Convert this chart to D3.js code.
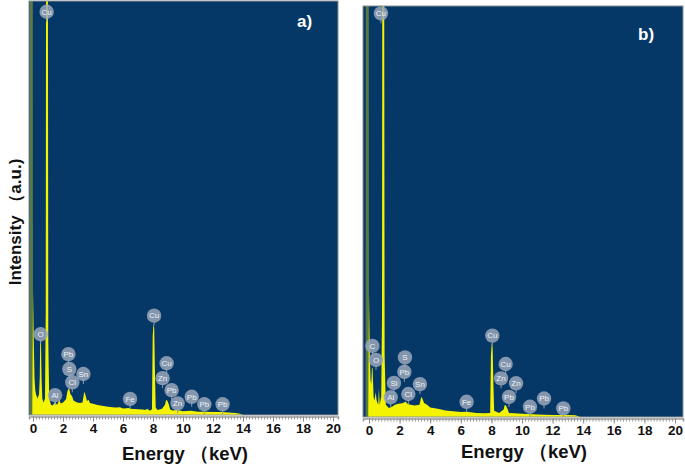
<!DOCTYPE html>
<html><head><meta charset="utf-8">
<script src="https://cdn.jsdelivr.net/npm/d3@7"></script>
<style>body{margin:0;background:#fff}svg{display:block}</style></head>
<body><svg id="c" width="685" height="469"></svg>
<script>
// ---------- data ----------
const xTickValues = [0,2,4,6,8,10,12,14,16,18,20];
const minorTickValues = d3.range(0, 20.001, 0.2);

// zero (noise) peak, same in both spectra
const zeroEnergy = [-0.22,-0.2,-0.02,0.0];
const zeroCounts = [0,150,150,0];

// spectrum a)
const aEnergy = [-0.05,0.0,0.05,0.1,0.15,0.2,0.3,0.4,0.45,0.48,0.53,0.57,0.62,0.7,0.8,0.85,0.88,0.98,1.02,1.08,1.2,1.3,1.4,1.49,1.6,1.75,1.85,2.0,2.2,2.3,2.4,2.5,2.6,2.7,2.9,3.1,3.3,3.42,3.5,3.6,3.7,3.8,4.0,4.3,4.5,4.8,5.0,5.3,5.5,5.8,6.0,6.4,6.5,7.0,7.3,7.5,7.6,7.8,7.93,7.98,8.03,8.08,8.13,8.18,8.3,8.6,8.8,8.87,8.95,9.05,9.15,9.3,9.6,10.0,10.5,11.0,11.5,12.0,12.6,13.0,13.5,13.8,14.0];
const aCounts = [0,30,18,9,6,5,4,5,9,18,18,9,4,3,4,25,150,150,18,4,2.5,2.3,2.8,3.2,2.4,3.6,2.8,3.0,3.8,5.8,6.5,5.0,4.6,3.5,3.1,2.9,3.0,5.6,4.8,3.4,3.7,2.9,2.7,2.4,2.3,2.1,2.0,1.9,1.8,1.9,1.6,1.7,1.5,1.4,1.3,1.2,1.5,1.0,1.4,19,22,21,10,1.8,1.2,1.5,2.5,3.6,3.5,2.6,1.3,1.1,1.2,0.9,1.0,0.8,0.8,0.7,0.7,0.6,0.5,0.3,0];
const aLabelNames  = ["Cu","O","Pb","S","Cl","Sn","Al","Fe","Cu","Cu","Zn","Pb","Zn","Pb","Pb","Pb"];
const aLabelEnergy = [0.91,0.51,2.36,2.42,2.62,3.36,1.47,6.47,8.07,8.91,8.64,9.24,9.64,10.58,11.42,12.64];
const aLabelLevel  = [97.4,19.5,14.7,11.1,7.9,9.9,4.8,3.9,24.0,12.5,8.9,6.0,2.8,4.4,2.6,2.6];

// spectrum b)
const bEnergy = [-0.05,0.0,0.05,0.1,0.15,0.19,0.23,0.27,0.3,0.35,0.4,0.44,0.5,0.6,0.65,0.7,0.8,0.85,0.88,0.98,1.02,1.1,1.3,1.5,1.7,1.9,2.1,2.3,2.4,2.5,2.7,3.0,3.3,3.42,3.5,3.6,3.8,4.0,4.5,5.0,5.5,6.0,6.4,7.0,7.5,7.92,7.97,8.02,8.08,8.13,8.18,8.5,8.8,8.87,8.95,9.05,9.15,9.5,10.0,11.0,12.0,13.0,13.5,13.8];
const bCounts = [0,30,16,9,8,12,12,8,5,4,5,6,4,3,7,3,5,25,150,150,15,3,2.2,2.5,3.0,3.2,3.3,3.5,3.8,3.2,3.0,2.8,3.0,4.9,4.4,3.4,3.0,2.3,2.0,1.6,1.4,1.2,1.3,1.0,0.9,1.0,15,18,17,8,1.5,1.0,1.8,2.9,2.8,2.0,1.0,0.9,0.8,0.6,0.5,0.5,0.4,0];
const bLabelNames  = ["Cu","C","O","S","Pb","Si","Al","Cl","Sn","Fe","Cu","Cu","Zn","Zn","Pb","Pb","Pb","Pb"];
const bLabelEnergy = [0.78,0.22,0.46,2.35,2.31,1.63,1.42,2.57,3.33,6.38,8.06,8.93,8.63,9.61,9.15,10.52,11.44,12.7];
const bLabelLevel  = [98.2,17.3,13.9,14.5,11.0,8.3,4.8,5.6,8.0,3.7,19.8,12.9,9.4,8.2,4.9,2.5,4.5,2.1];

// ---------- drawing ----------
const svg = d3.select("#c");
const FONT = "'Liberation Sans', Arial, sans-serif";
const BLUE = "#063867";
const YEL = "#f4f400";

function panel(cfg){
  const g = svg.append("g");
  const x = d3.scaleLinear().domain(cfg.xDomain).range([cfg.left, cfg.right]);
  const y = d3.scaleLinear().domain([0,100]).range([cfg.bottom, cfg.top]);
  const id = "clip" + cfg.name;
  svg.append("clipPath").attr("id", id).append("rect")
    .attr("x", cfg.left).attr("y", cfg.top)
    .attr("width", cfg.right-cfg.left).attr("height", cfg.bottom-cfg.top);
  g.append("rect").attr("x", cfg.left).attr("y", cfg.top)
    .attr("width", cfg.right-cfg.left).attr("height", cfg.bottom-cfg.top)
    .attr("fill", BLUE);
  const area = d3.area().x(d=>x(d[0])).y0(y(0)).y1(d=>y(d[1]));
  const cg = g.append("g").attr("clip-path", `url(#${id})`);
  cg.append("path").datum(d3.zip(zeroEnergy, zeroCounts))
    .attr("d", area).attr("fill", YEL).attr("fill-opacity", 0.35);
  cg.append("path").datum(d3.zip(cfg.E, cfg.I))
    .attr("d", area).attr("fill", YEL);
  // element labels
  const lab = cg.selectAll("g.lab").data(d3.zip(cfg.names, cfg.le, cfg.ll)).join("g")
    .attr("transform", d=>`translate(${x(d[1])},${y(d[2])})`);
  lab.append("line").attr("x1",0).attr("x2",0).attr("y1",6).attr("y2",10)
    .attr("stroke","#8d9aae").attr("stroke-width",1);
  lab.append("circle").attr("r",7.2).attr("fill","#9aa7ba").attr("fill-opacity",0.85);
  lab.append("text").text(d=>d[0]).attr("text-anchor","middle").attr("dy","0.35em")
    .attr("font-family", FONT).attr("font-size", 8).attr("fill","#eef2f7");
  // frame
  g.append("rect").attr("x", cfg.left).attr("y", cfg.top)
    .attr("width", cfg.right-cfg.left).attr("height", cfg.bottom-cfg.top)
    .attr("fill","none").attr("stroke","#8a8f96").attr("stroke-width",1);
  // axis
  const ay = cfg.bottom + 1.5;
  const minor = g.append("g").attr("transform",`translate(0,${ay})`)
    .call(d3.axisBottom(x).tickValues(minorTickValues).tickSize(3).tickFormat(""));
  minor.select(".domain").attr("stroke","#999").attr("stroke-width",1.5);
  minor.selectAll(".tick line").attr("stroke","#999");
  const major = g.append("g").attr("transform",`translate(0,${ay})`)
    .call(d3.axisBottom(x).tickValues(xTickValues).tickSize(5).tickPadding(2).tickFormat(d3.format("d")));
  major.select(".domain").remove();
  major.selectAll(".tick line").attr("stroke","#888");
  major.selectAll(".tick text").attr("font-family", FONT).attr("font-weight","bold")
    .attr("font-size", 13.5).attr("fill","#111");
  // panel letter
  g.append("text").text(cfg.name + ")").attr("x", cfg.letterX).attr("y", cfg.letterY)
    .attr("font-family", FONT).attr("font-weight","bold").attr("font-size",17).attr("fill","#fff");
  // x title
  g.append("text").text("Energy （keV)").attr("x", cfg.titleX).attr("y", cfg.titleY)
    .attr("text-anchor","middle").attr("font-family", FONT).attr("font-weight","bold")
    .attr("font-size",18.5).attr("fill","#111");
}

panel({name:"a", left:29, right:338, top:1, bottom:415, xDomain:[-4/15, 305/15],
  E:aEnergy, I:aCounts, names:aLabelNames, le:aLabelEnergy, ll:aLabelLevel,
  letterX:297, letterY:27, titleX:185, titleY:460});
panel({name:"b", left:363, right:683, top:6, bottom:417, xDomain:[-6/15.3, 314/15.3],
  E:bEnergy, I:bCounts, names:bLabelNames, le:bLabelEnergy, ll:bLabelLevel,
  letterX:638, letterY:40, titleX:524, titleY:458});

// y title
svg.append("text").text("Intensity （a.u.)")
  .attr("transform","translate(21,222) rotate(-90)")
  .attr("text-anchor","middle").attr("font-family", FONT).attr("font-weight","bold")
  .attr("font-size",17).attr("fill","#111");
</script></body></html>
